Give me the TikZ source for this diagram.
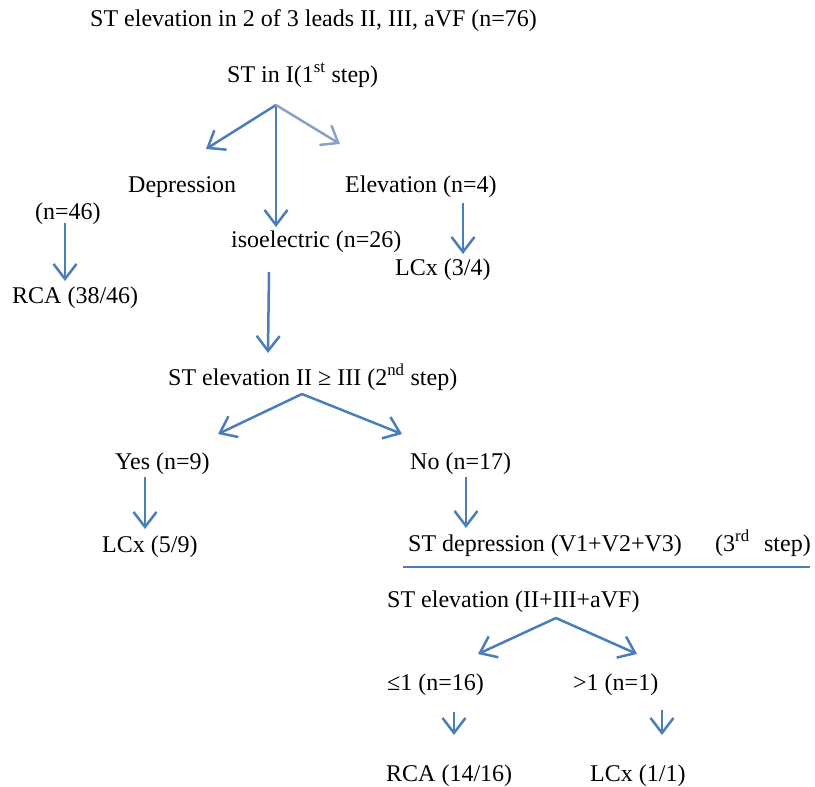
\documentclass[tikz,border=0pt]{standalone}
\usepackage{fontspec}
\setmainfont{Liberation Serif}
\usetikzlibrary{arrows.meta}
\definecolor{arrblue}{RGB}{74,126,187}
\definecolor{arrgray}{RGB}{140,162,196}
\tikzset{
  lbl/.style={anchor=base west,inner sep=0pt,font=\fontsize{24}{29}\selectfont},
  arr/.style={draw=arrblue,line width=2.5pt,-{Straight Barb[length=15pt,width=23pt]}},
}
\begin{document}
\begin{tikzpicture}[x=1pt,y=-1pt]
\useasboundingbox[fill=white] (0,0) rectangle (815,787);
% text nodes
\node[lbl] (title) at (90,27) {ST elevation in 2 of 3 leads II, III, aVF (n=76)};
\node[lbl] (step1) at (227,82) {ST in I(1\textsuperscript{st} step)};
\node[lbl] (dep) at (128,192) {Depression};
\node[lbl] (elev) at (345,192) {Elevation (n=4)};
\node[lbl] (n46) at (35,219) {(n=46)};
\node[lbl] (iso) at (231,247) {isoelectric (n=26)};
\node[lbl] (lcx34) at (395,275) {LCx (3/4)};
\node[lbl] (rca3846) at (12,303) {RCA (38/46)};
\node[lbl] (step2) at (168,385) {ST elevation II ≥ III (2\textsuperscript{nd} step)};
\node[lbl] (yes) at (115,469) {Yes (n=9)};
\node[lbl] (no) at (410,469) {No (n=17)};
\node[lbl] (lcx59) at (102,552) {LCx (5/9)};
\node[lbl] (step3) at (408,551) {ST depression (V1+V2+V3)};
\node[lbl] (step3b) at (715,551) {(3\textsuperscript{rd}\hspace{0.6em}step)};
\node[lbl] (elev3) at (387,607) {ST elevation (II+III+aVF)};
\node[lbl] (le1) at (387,690) {≤1 (n=16)};
\node[lbl] (gt1) at (573,690) {>1 (n=1)};
\node[lbl] (rca1416) at (386,781) {RCA (14/16)};
\node[lbl] (lcx11) at (590,781) {LCx (1/1)};
% arrow coordinates
\coordinate (a1) at (276,105);
\coordinate (a1l) at (206,149);
\coordinate (a1d) at (276,227);
\coordinate (a1r) at (340,144);
\coordinate (b1) at (65,223);
\coordinate (b2) at (65,281);
\coordinate (c1) at (463,203);
\coordinate (c2) at (463,254);
\coordinate (d1) at (269,272);
\coordinate (d2) at (268,353);
\coordinate (e0) at (302,394);
\coordinate (el) at (218,434);
\coordinate (er) at (402,434);
\coordinate (f1) at (145,477);
\coordinate (f2) at (145,529);
\coordinate (g1) at (466,477);
\coordinate (g2) at (466,528);
\coordinate (h0) at (556,618);
\coordinate (hl) at (478,654);
\coordinate (hr) at (637,654);
\coordinate (i1) at (454,712);
\coordinate (i2) at (454,735);
\coordinate (j1) at (662,710);
\coordinate (j2) at (662,735);
\coordinate (ln1) at (403,567);
\coordinate (ln2) at (810,567);
% arrows
\draw[arr] (a1) -- (a1l);
\draw[arr] (a1) -- (a1d);
\draw[arr,draw=arrgray] (a1) -- (a1r);
\draw[arr] (b1) -- (b2);
\draw[arr] (c1) -- (c2);
\draw[arr] (d1) -- (d2);
\draw[arr] (e0) -- (el);
\draw[arr] (e0) -- (er);
\draw[arr] (f1) -- (f2);
\draw[arr] (g1) -- (g2);
\draw[arr] (h0) -- (hl);
\draw[arr] (h0) -- (hr);
\draw[arr] (i1) -- (i2);
\draw[arr] (j1) -- (j2);
\draw[arrblue,line width=1.6pt] (ln1) -- (ln2);
\end{tikzpicture}
\end{document}
